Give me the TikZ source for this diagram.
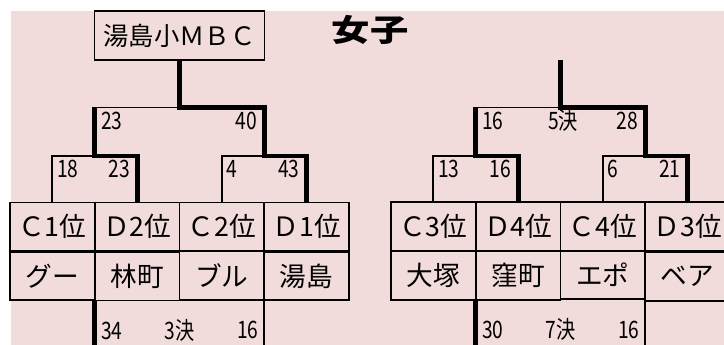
\documentclass[tikz,border=0pt]{standalone}
\usepackage{fontspec}
\setmainfont{Noto Sans CJK JP}
\newfontfamily\scorefont[FakeStretch=0.8]{Noto Sans CJK JP}
\newfontfamily\titlefont[FakeStretch=1.25]{Noto Sans CJK JP}
\usepackage{tikz}
\usetikzlibrary{matrix}
\definecolor{bgpink}{HTML}{F2DCDB}
\tikzset{
  teamgrid/.style={matrix of nodes,column sep=-\pgflinewidth,row sep=-\pgflinewidth,
    nodes={draw,outer sep=0pt,inner sep=0pt,minimum width=63.56pt,minimum height=36.4pt,
      font=\fontsize{20pt}{24pt}\selectfont}},
  win/.style={line width=3.6pt},
  sc/.style={inner sep=0pt,font=\scorefont\fontsize{18pt}{21pt}\selectfont},
  scl/.style={sc,anchor=base west,xshift=3pt,yshift=-16.5pt},
  scr/.style={sc,anchor=base east,xshift=-3.5pt,yshift=-16.5pt},
  sbl/.style={sc,anchor=base west,xshift=3pt,yshift=-29.25pt},
  sbr/.style={sc,anchor=base east,xshift=-3.5pt,yshift=-29.25pt}
}
\begin{document}
\begin{tikzpicture}[x=0.75pt,y=-0.75pt,line width=1.4pt]
  \useasboundingbox (0,0) rectangle (724,345);
  \fill[bgpink] (11,11) rectangle (724,345);
  \node[draw,inner sep=0pt,minimum width=127.5pt,minimum height=36.75pt,
    font=\fontsize{19pt}{22pt}\selectfont] (champ) at (179.5,35.5) {湯島小ＭＢＣ};
  \node[font=\titlefont\bfseries\fontsize{23pt}{26pt}\selectfont] (title) at (370,30) {女子};
  \matrix (lm) [teamgrid] at (179.5,251.5)
  {
    Ｃ1位 & Ｄ2位 & Ｃ2位 & Ｄ1位 \\
    グー & 林町 & ブル & 湯島 \\
  };
  \matrix (rm) [teamgrid] at (560.5,251.5)
  {
    Ｃ3位 & Ｄ4位 & Ｃ4位 & Ｄ3位 \\
    大塚 & 窪町 & エポ & ベア \\
  };
  \coordinate (la) at (lm-1-1.north east |- 0,156);
  \coordinate (lb) at (lm-1-3.north east |- 0,156);
  \coordinate (lc) at (lm-1-2.north east |- 0,107.5);
  \coordinate (lat) at (la |- lc);
  \coordinate (lq) at (lm-2-1.south east |- 0,350);
  \coordinate (lr) at (lm-2-3.south east |- 0,350);
  \draw (lm-1-1.north) |- node[midway,scl] (ls1) {18} (la);
  \draw (lm-1-3.north) |- node[midway,scl] (ls3) {4} (lb);
  \draw (lat) -- (lc);
  \draw[win] (lm-1-2.north) |- node[midway,scr] (ls2) {23} (la) -- (lat) node[scl] (ls5) {23};
  \draw[win] (lm-1-4.north) |- node[midway,scr] (ls4) {43} (lb)
    |- node[midway,scr] (ls6) {40} (lc) -- (champ);
  \draw (lm-2-3.south east) -- node[pos=0,sbr] (lt3) {16} (lr);
  \draw[win] (lm-2-1.south east) -- node[pos=0,sbl] (lt1) {34} (lq);
  \node[sc,anchor=base,yshift=-29.25pt] (lt2) at (lm-2-2.south east) {3決};
  \coordinate (ra) at (rm-1-1.north east |- 0,156);
  \coordinate (rb) at (rm-1-3.north east |- 0,156);
  \coordinate (rc) at (rm-1-2.north east |- 0,107.5);
  \coordinate (rat) at (ra |- rc);
  \coordinate (rtop) at (rc |- 0,60);
  \coordinate (rq) at (rm-2-1.south east |- 0,350);
  \coordinate (rr) at (rm-2-3.south east |- 0,350);
  \draw (rm-1-1.north) |- node[midway,scl] (rs1) {13} (ra);
  \draw (rm-1-3.north) |- node[midway,scl] (rs3) {6} (rb);
  \draw (rat) -- (rc);
  \draw[win] (rm-1-2.north) |- node[midway,scr] (rs2) {16} (ra) -- (rat) node[scl] (rs5) {16};
  \draw[win] (rm-1-4.north) |- node[midway,scr] (rs4) {21} (rb)
    |- node[midway,scr] (rs6) {28} (rc) -- (rtop);
  \node[sc,anchor=base,xshift=2pt,yshift=-16.5pt] (rfin) at (rc) {5決};
  \draw (rm-2-3.south east) -- node[pos=0,sbr] (rt3) {16} (rr);
  \draw[win] (rm-2-1.south east) -- node[pos=0,sbl] (rt1) {30} (rq);
  \node[sc,anchor=base,yshift=-29.25pt] (rt2) at (rm-2-2.south east) {7決};
\end{tikzpicture}
\end{document}
